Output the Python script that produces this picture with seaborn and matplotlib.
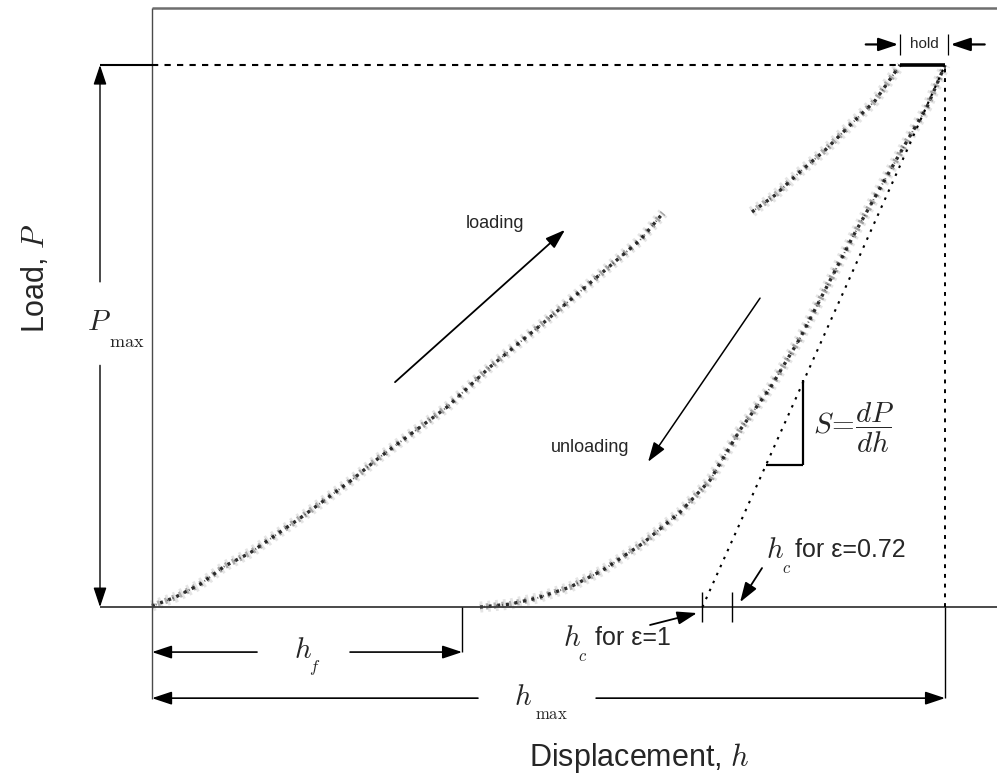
import matplotlib
matplotlib.use("Agg")
import matplotlib.pyplot as plt
import seaborn as sns
import pandas as pd

# ---- indentation data (displacement h in nm, load P in mN) ----
load_h_lower = [0.0, 29.0, 60.5, 92.1, 123.6, 186.6, 249.7, 287.5, 372.0, 426.2, 498.1, 561.2, 615.4, 644.4]
load_P_lower = [0.02, 0.18, 0.42, 0.76, 1.00, 1.64, 2.32, 2.77, 3.69, 4.43, 5.30, 6.09, 6.77, 7.27]
load_h_upper = [756.6, 785.6, 817.1, 848.7, 880.2, 911.7, 943.2]
load_P_upper = [7.29, 7.60, 8.03, 8.43, 8.89, 9.34, 10.0]
unload_h = [413.6, 451.4, 485.5, 527.1, 568.7, 619.2, 665.8, 703.6, 741.5, 779.3,
            817.1, 851.2, 883.9, 918.0, 952.1, 977.3, 1000.0]
unload_P = [0.0, 0.055, 0.166, 0.369, 0.683, 1.18, 1.75, 2.34, 3.27, 4.04,
            4.96, 5.92, 6.84, 7.73, 8.60, 9.23, 10.0]

P_MAX = 10.0
H_MAX = 1000.0
H_F = 391.0
HOLD_START = 943.2
HC_EPS1 = 694.0
HC_EPS072 = 731.6

sns.set_theme(style="white")
plt.rcParams["font.family"] = ["Liberation Sans", "DejaVu Sans"]
plt.rcParams["mathtext.fontset"] = "cm"

fig = plt.figure(figsize=(9.97, 7.8), dpi=100)
ax = fig.add_axes([0, 0, 1, 1])

K = "black"


def seg(x0, y0, x1, y1, **kw):
    kw.setdefault("color", K)
    kw.setdefault("lw", 1.2)
    ax.plot([x0, x1], [y0, y1], solid_capstyle="butt", **kw)


def arrow(tail, head, lw=1.2):
    ax.annotate("", xy=head, xytext=tail,
                arrowprops=dict(arrowstyle="-|>,head_length=0.6,head_width=0.2",
                                color=K, lw=lw, mutation_scale=20,
                                shrinkA=0, shrinkB=0))


# ---- load-displacement record drawn as a grainy band ----
# overlapping dash patterns of different period give a speckled texture
band_layers = [
    dict(color="#b4b4b4", lw=8.0, alpha=0.35, linestyle=(0, (0.25, 0.45))),
    dict(color="#6a6a6a", lw=4.5, alpha=0.55, linestyle=(0.3, (0.35, 0.9))),
    dict(color="#161616", lw=2.4, alpha=0.9, linestyle=(0, (0.9, 1.7))),
    dict(color="#303030", lw=1.4, alpha=0.8, linestyle=(1.1, (0.5, 2.6))),
]
curves = [
    pd.DataFrame({"h": load_h_lower, "P": load_P_lower}),
    pd.DataFrame({"h": load_h_upper, "P": load_P_upper}),
    pd.DataFrame({"h": unload_h, "P": unload_P}),
]
for df in curves:
    for style in band_layers:
        sns.lineplot(data=df, x="h", y="P", sort=False, estimator=None, ax=ax, **style)

ax.set_xlim(-191.7, 1065.5)
ax.set_ylim(-3.19, 11.20)
ax.axis("off")

# ---- frame ----
seg(0, 11.05, 1100, 11.05, color="#6e6e6e", lw=1.8)
seg(0, -1.70, 0, 11.05, color="#4a4a4a", lw=1.0)
seg(-65.6, 0, 1100, 0, color="#3a3a3a", lw=1.3)

# ---- maximum load line and hold segment ----
seg(-65.6, P_MAX, 0, P_MAX, lw=1.5)
seg(0, P_MAX, HOLD_START, P_MAX, lw=1.5, linestyle=(0, (3, 3)))
seg(HOLD_START, P_MAX, H_MAX, P_MAX, lw=2.6)

# hold marker
seg(HOLD_START, 10.18, HOLD_START, 10.58, lw=0.9)
seg(1004, 10.18, 1004, 10.58, lw=0.9)
ax.text(974, 10.38, "hold", ha="center", va="center", fontsize=11)
arrow((900, 10.38), (941, 10.38), lw=1.6)
arrow((1050, 10.38), (1007, 10.38), lw=1.6)

# ---- P_max dimension ----
arrow((-65.6, 6.0), (-65.6, P_MAX), lw=1.0)
arrow((-65.6, 4.46), (-65.6, 0), lw=1.0)
ax.text(-66.8, 5.26, "$P$", ha="center", va="center", fontsize=21)
ax.text(-31.5, 4.89, r"$\mathrm{max}$", ha="center", va="center", fontsize=13)

# ---- axis titles ----
ax.text(-147.5, 6.07, "Load, $P$", rotation=90, ha="center", va="center", fontsize=22)
ax.text(615, -2.79, "Displacement, $h$", ha="center", va="center", fontsize=22)

# ---- h_f dimension ----
yf = -0.83
arrow((132.4, yf), (0, yf))
arrow((249.7, yf), (H_F, yf))
seg(H_F, 0, H_F, yf, lw=1.0)
ax.text(190.4, -0.79, "$h$", ha="center", va="center", fontsize=21)
ax.text(205.5, -1.11, "$f$", ha="center", va="center", fontsize=12)

# ---- h_max dimension ----
ym = -1.68
arrow((411, ym), (0, ym))
arrow((560, ym), (H_MAX, ym))
seg(H_MAX, 0, H_MAX, ym, lw=1.0)
seg(H_MAX, 0, H_MAX, P_MAX, lw=1.4, linestyle=(0, (2, 3)))
ax.text(467.8, -1.66, "$h$", ha="center", va="center", fontsize=21)
ax.text(503, -1.99, r"$\mathrm{max}$", ha="center", va="center", fontsize=12)

# ---- tangent at the onset of unloading ----
seg(HC_EPS1, 0, H_MAX, P_MAX, lw=1.5, linestyle=(0, (1.2, 3)))
for hc in (HC_EPS1, HC_EPS072):
    seg(hc, 0.28, hc, -0.28, lw=1.0)

# slope triangle and stiffness label
seg(821, 4.19, 821, 2.62, lw=1.6)
seg(774.3, 2.62, 821, 2.62, lw=1.6)
ax.text(834, 3.30, r"$S\!=\!\dfrac{dP}{dh}$", ha="left", va="center", fontsize=21)

# ---- contact depth labels ----
ax.text(529.6, -0.57, "$h$", ha="center", va="center", fontsize=21)
ax.text(543.5, -0.92, "$c$", ha="center", va="center", fontsize=12)
ax.text(558.6, -0.57, "for \u03b5=1", ha="left", va="center", fontsize=18)
arrow((628, -0.33), (687.2, -0.11), lw=1.3)

ax.text(785.6, 1.05, "$h$", ha="center", va="center", fontsize=21)
ax.text(800.7, 0.72, "$c$", ha="center", va="center", fontsize=12)
ax.text(810.8, 1.05, "for \u03b5=0.72", ha="left", va="center", fontsize=18)
arrow((769.2, 0.72), (741.5, 0.09), lw=1.3)

# ---- direction annotations ----
ax.text(432.5, 7.08, "loading", ha="center", va="center", fontsize=13)
arrow((306.4, 4.15), (520.8, 6.96), lw=1.3)
ax.text(552.3, 2.95, "unloading", ha="center", va="center", fontsize=13)
arrow((766.7, 5.70), (625.5, 2.68), lw=1.1)

fig.savefig("out.png", dpi=100)
